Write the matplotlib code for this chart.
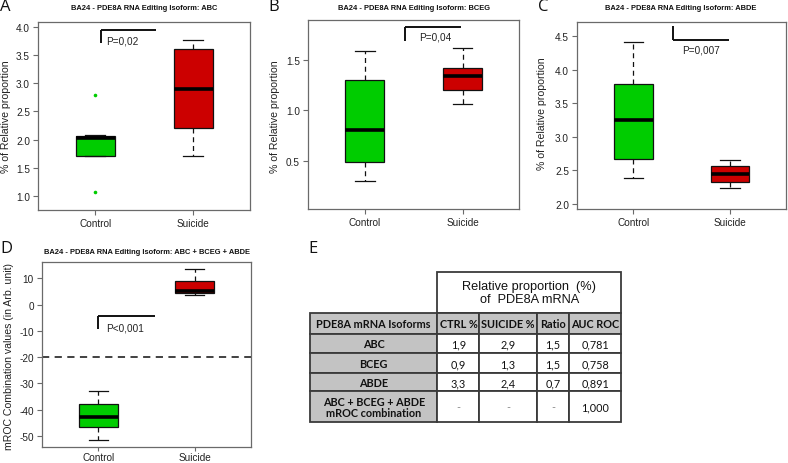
import matplotlib
matplotlib.use("Agg")
import matplotlib.pyplot as plt
from matplotlib.patches import Rectangle

W, H = 788, 464
fig = plt.figure(figsize=(W / 100, H / 100), dpi=100)
fig.patch.set_facecolor("white")

PLOT_FONT = ["Liberation Sans", "DejaVu Sans"]
TABLE_FONT = ["Lato", "DejaVu Sans"]

# ---------------- data ----------------
groups = ["Control", "Suicide"]

# box statistics: whislo, q1, med, q3, whishi
A_control = [1.71, 1.72, 2.03, 2.07, 2.08]
A_control_out = [2.79, 1.08]
A_suicide = [1.71, 2.20, 2.90, 3.60, 3.77]

B_control = [0.30, 0.487, 0.805, 1.30, 1.583]
B_suicide = [1.06, 1.20, 1.34, 1.418, 1.62]

C_control = [2.38, 2.66, 3.25, 3.79, 4.42]
C_suicide = [2.23, 2.32, 2.45, 2.56, 2.65]

D_control = [-51.6, -46.5, -42.9, -37.9, -32.9]
D_suicide = [3.8, 4.5, 5.2, 9.0, 13.4]
D_cutoff = -20

A_ticks = [1.0, 1.5, 2.0, 2.5, 3.0, 3.5, 4.0]
B_ticks = [0.5, 1.0, 1.5]
C_ticks = [2.0, 2.5, 3.0, 3.5, 4.0, 4.5]
D_ticks = [-50, -40, -30, -20, -10, 0, 10]

p_texts = ["P=0,02", "P=0,04", "P=0,007", "P<0,001"]
titles = ["BA24 - PDE8A RNA Editing Isoform: ABC",
          "BA24 - PDE8A RNA Editing Isoform: BCEG",
          "BA24 - PDE8A RNA Editing Isoform: ABDE",
          "BA24 - PDE8A RNA Editing Isoform: ABC + BCEG + ABDE"]

table_header = ["PDE8A mRNA Isoforms", "CTRL %", "SUICIDE %", "Ratio", "AUC ROC"]
table_isoforms = ["ABC", "BCEG", "ABDE", "ABC + BCEG + ABDE\nmROC combination"]
ctrl_pct = ["1,9", "0,9", "3,3", "-"]
suicide_pct = ["2,9", "1,3", "2,4", "-"]
ratio = ["1,5", "1,5", "0,7", "-"]
auc_roc = ["0,781", "0,758", "0,891", "1,000"]
table_top_header = "Relative proportion  (%)\nof  PDE8A mRNA"

GREEN = "#00cc00"
RED = "#cc0000"
FRAME = "#6a6a6a"


def px_axes(l, r, t, b):
    return fig.add_axes([l / W, 1 - b / H, (r - l) / W, (b - t) / H])


def stats(v, fl=None):
    return dict(whislo=v[0], q1=v[1], med=v[2], q3=v[3], whishi=v[4],
                fliers=fl if fl is not None else [])


def box_panel(ax, ctrl, sui, ylim, yticks, fl=None, fmt="{:.1f}",
              xlen=3.5, xpad=2.5):
    bs = [stats(ctrl, fl), stats(sui)]
    b = ax.bxp(bs, positions=[1, 2], widths=0.4, patch_artist=True,
               showfliers=True,
               boxprops=dict(linewidth=0.9, edgecolor="#111111"),
               medianprops=dict(color="black", linewidth=2.6, solid_capstyle="butt"),
               whiskerprops=dict(color="#111111", linewidth=0.9, linestyle=(0, (4, 3))),
               capprops=dict(color="#111111", linewidth=0.9),
               flierprops=dict(marker="o", markersize=2.6, markerfacecolor=GREEN,
                               markeredgecolor="none"))
    for patch, c in zip(b["boxes"], [GREEN, RED]):
        patch.set_facecolor(c)
    ax.set_xlim(0.42, 2.58)
    ax.set_ylim(*ylim)
    ax.set_yticks(yticks)
    ax.set_yticklabels([fmt.format(t) for t in yticks])
    ax.set_xticks([1, 2])
    ax.set_xticklabels(groups)
    for s in ax.spines.values():
        s.set_color(FRAME)
        s.set_linewidth(0.9)
    ax.tick_params(axis="both", length=3.5, width=0.8, color=FRAME,
                   labelsize=7.2, labelcolor="#222222", pad=2.5)
    ax.tick_params(axis="x", length=xlen, pad=xpad)
    for lab in ax.get_xticklabels() + ax.get_yticklabels():
        lab.set_fontfamily(PLOT_FONT)


def bracket(ax, x0, x1, ytop, ybot, text, tx, ty, down_left=True):
    ax.plot([x0, x0], [ybot, ytop], color="#111111", lw=1.4, solid_capstyle="butt")
    if down_left:
        ax.plot([x0, x1], [ytop, ytop], color="#111111", lw=1.4, solid_capstyle="butt")
    else:
        ax.plot([x0, x1], [ybot, ybot], color="#111111", lw=1.4, solid_capstyle="butt")
    ax.text(tx, ty, text, fontsize=7.2, va="center", ha="left", color="#222222",
            family=PLOT_FONT)


def title(cx, cy, s):
    fig.text(cx / W, 1 - cy / H, s, fontsize=5.4, fontweight="bold",
             ha="center", va="center", family=PLOT_FONT, color="#111111")


def ylab(cx, cy, s):
    fig.text(cx / W, 1 - cy / H, s, fontsize=7.6, rotation=90,
             ha="center", va="center", family=PLOT_FONT, color="#222222")


def letter(x, cy, s):
    fig.text(x / W, 1 - cy / H, s, fontsize=12, ha="left", va="center",
             family=["Open Sans", "DejaVu Sans"], color="#111111")


# ---------------- Panel A ----------------
axA = px_axes(38.3, 250, 23, 211)
box_panel(axA, A_control, A_suicide, (0.76, 4.08), A_ticks, fl=A_control_out)
bracket(axA, 1.058, 1.624, 3.947, 3.71, p_texts[0], 1.116, 3.75)
title(144, 9, titles[0])
ylab(6, 117, "% of Relative proportion")
letter(0, 7, "A")

# ---------------- Panel B ----------------
axB = px_axes(308.3, 519.3, 21, 210)
box_panel(axB, B_control, B_suicide, (0.022, 1.893), B_ticks)
bracket(axB, 1.413, 1.983, 1.821, 1.682, p_texts[1], 1.553, 1.73)
title(414, 8.5, titles[1])
ylab(275.5, 117, "% of Relative proportion")
letter(268, 7, "B")

# ---------------- Panel C ----------------
axC = px_axes(577.3, 786, 22.7, 210)
box_panel(axC, C_control, C_suicide, (1.92, 4.718), C_ticks)
bracket(axC, 1.408, 1.993, 4.658, 4.449, p_texts[2], 1.504, 4.30, down_left=False)
title(681, 8.5, titles[2])
ylab(542, 114, "% of Relative proportion")
letter(538, 7, "C")

# ---------------- Panel D ----------------
axD = px_axes(42.3, 250.7, 262.7, 448.3)
box_panel(axD, D_control, D_suicide, (-54.3, 16.3), D_ticks, fmt="{:.0f}",
          xlen=2.8, xpad=0.6)
axD.axhline(D_cutoff, color="#333333", lw=1.3, linestyle=(0, (4, 3)))
bracket(axD, 1.00, 1.591, -4.46, -9.3, p_texts[3], 1.08, -8.9)
title(146.5, 252.7, titles[3])
ylab(9, 356, "mROC Combination values (in Arb. unit)")
letter(0, 249, "D")

# ---------------- Panel E (table) ----------------
letter(308, 249, "E")
axT = fig.add_axes([0, 0, 1, 1])
axT.set_xlim(0, W)
axT.set_ylim(H, 0)
axT.axis("off")
axT.patch.set_alpha(0)

col_edges = [310, 437.5, 479.3, 536.7, 569.3, 621]
row_edges = [314, 334.7, 354.3, 373.7, 392.3, 422.7]
GRAY = "#c3c3c3"
EDGE = "#3a3a3a"

# top merged header
axT.add_patch(Rectangle((col_edges[1], 273.3), col_edges[-1] - col_edges[1], 314 - 273.3,
                        facecolor="white", edgecolor=EDGE, lw=1.3))
axT.text((col_edges[1] + col_edges[-1]) / 2, (273.3 + 314) / 2, table_top_header,
         ha="center", va="center", fontsize=9.2, family=PLOT_FONT, color="#111111",
         linespacing=1.15)

body_cols = [table_isoforms, ctrl_pct, suicide_pct, ratio, auc_roc]
for ci in range(5):
    x0, x1 = col_edges[ci], col_edges[ci + 1]
    for ri in range(5):
        y0, y1 = row_edges[ri], row_edges[ri + 1]
        header = ri == 0
        fc = GRAY if (header or ci == 0) else "white"
        axT.add_patch(Rectangle((x0, y0), x1 - x0, y1 - y0, facecolor=fc,
                                edgecolor=EDGE, lw=1.3))
        if header:
            txt = table_header[ci]
        else:
            txt = body_cols[ci][ri - 1]
        bold = header or ci == 0
        col = "#111111"
        if txt == "-":
            col = "#888888"
        axT.text((x0 + x1) / 2, (y0 + y1) / 2 + 0.5, txt, ha="center", va="center",
                 fontsize=7.8, fontweight="bold" if bold else "normal",
                 family=TABLE_FONT, color=col, linespacing=1.1)

fig.savefig("out.png", dpi=100, facecolor="white")
